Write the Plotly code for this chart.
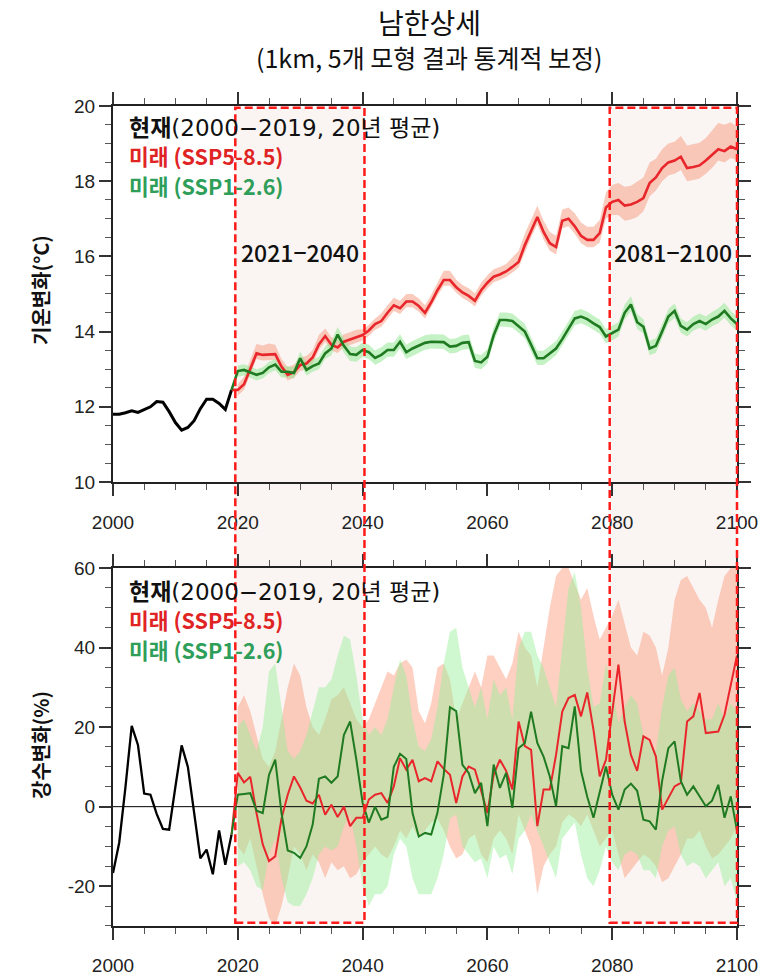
import plotly.graph_objects as go

# ---------------- data ----------------
years_obs = list(range(2000, 2020))
years_fut = list(range(2020, 2101))

# temperature (°C)
temp_obs = [11.80, 11.80, 11.84, 11.89, 11.85, 11.93, 12.00, 12.14, 12.12, 11.87,
            11.58, 11.38, 11.45, 11.63, 11.95, 12.20, 12.20, 12.09, 11.93, 12.45]

temp_ssp585 = [12.45, 12.60, 13.00, 13.42, 13.38, 13.38, 13.40, 13.07, 12.85, 12.92,
               13.11, 13.15, 13.31, 13.66, 13.88, 13.65, 13.58, 13.73, 13.78, 13.85,
               13.91, 14.03, 14.20, 14.28, 14.50, 14.70, 14.62, 14.80, 14.80, 14.68,
               14.50, 14.78, 15.10, 15.37, 15.37, 15.18, 15.04, 14.95, 14.82, 15.10,
               15.30, 15.46, 15.52, 15.60, 15.72, 15.85, 16.30, 16.70, 17.05, 16.65,
               16.35, 16.25, 16.95, 17.00, 16.80, 16.55, 16.44, 16.44, 16.62, 17.30,
               17.45, 17.50, 17.35, 17.38, 17.45, 17.55, 17.95, 18.10, 18.35, 18.50,
               18.55, 18.65, 18.35, 18.38, 18.42, 18.55, 18.70, 18.85, 18.80, 18.92,
               18.85]
temp_ssp585_up = [0.15, 0.20, 0.25, 0.25, 0.25, 0.30, 0.25, 0.20, 0.20, 0.20,
                  0.20, 0.20, 0.20, 0.25, 0.20, 0.20, 0.20, 0.20, 0.20, 0.20,
                  0.15, 0.15, 0.15, 0.20, 0.20, 0.20, 0.20, 0.20, 0.20, 0.20,
                  0.20, 0.20, 0.20, 0.25, 0.25, 0.20, 0.20, 0.20, 0.20, 0.20,
                  0.20, 0.20, 0.20, 0.20, 0.25, 0.30, 0.30, 0.30, 0.30, 0.30,
                  0.30, 0.30, 0.30, 0.30, 0.35, 0.35, 0.35, 0.35, 0.35, 0.40,
                  0.45, 0.45, 0.50, 0.50, 0.55, 0.55, 0.55, 0.50, 0.50, 0.50,
                  0.50, 0.55, 0.60, 0.60, 0.60, 0.60, 0.65, 0.70, 0.70, 0.65,
                  0.60]
temp_ssp585_dn = [0.15, 0.15, 0.15, 0.15, 0.15, 0.15, 0.15, 0.15, 0.15, 0.15,
                  0.15, 0.15, 0.15, 0.15, 0.15, 0.15, 0.15, 0.15, 0.15, 0.15,
                  0.15, 0.15, 0.15, 0.15, 0.15, 0.15, 0.15, 0.15, 0.15, 0.15,
                  0.15, 0.15, 0.15, 0.15, 0.15, 0.15, 0.15, 0.15, 0.15, 0.15,
                  0.15, 0.15, 0.15, 0.15, 0.15, 0.15, 0.20, 0.20, 0.20, 0.20,
                  0.20, 0.20, 0.20, 0.20, 0.20, 0.20, 0.20, 0.20, 0.25, 0.30,
                  0.35, 0.40, 0.40, 0.40, 0.40, 0.35, 0.35, 0.35, 0.35, 0.35,
                  0.35, 0.35, 0.35, 0.35, 0.35, 0.35, 0.35, 0.30, 0.30, 0.30,
                  0.30]

temp_ssp126 = [12.95, 12.98, 12.92, 12.85, 12.90, 13.05, 13.12, 12.93, 12.93, 12.90,
               13.29, 12.98, 13.08, 13.15, 13.42, 13.55, 13.92, 13.62, 13.40, 13.38,
               13.51, 13.45, 13.30, 13.38, 13.51, 13.51, 13.73, 13.45, 13.55, 13.62,
               13.70, 13.73, 13.73, 13.72, 13.60, 13.62, 13.70, 13.72, 13.22, 13.18,
               13.33, 13.90, 14.31, 14.31, 14.28, 14.15, 14.00, 13.65, 13.29, 13.29,
               13.42, 13.55, 13.80, 14.08, 14.35, 14.40, 14.33, 14.22, 14.12, 13.87,
               13.95, 14.05, 14.50, 14.72, 14.25, 14.13, 13.55, 13.62, 14.00, 14.40,
               14.55, 14.15, 14.05, 14.20, 14.28, 14.20, 14.32, 14.40, 14.55, 14.35,
               14.20]
temp_ssp126_up = [0.15, 0.15, 0.15, 0.15, 0.15, 0.15, 0.15, 0.15, 0.15, 0.15,
                  0.18, 0.18, 0.18, 0.18, 0.18, 0.20, 0.20, 0.20, 0.20, 0.20,
                  0.20, 0.20, 0.20, 0.20, 0.20, 0.20, 0.20, 0.20, 0.20, 0.20,
                  0.20, 0.20, 0.20, 0.20, 0.20, 0.20, 0.20, 0.20, 0.20, 0.20,
                  0.20, 0.20, 0.20, 0.20, 0.20, 0.20, 0.20, 0.20, 0.20, 0.20,
                  0.20, 0.20, 0.20, 0.20, 0.20, 0.20, 0.20, 0.20, 0.20, 0.20,
                  0.20, 0.20, 0.22, 0.22, 0.22, 0.20, 0.20, 0.20, 0.20, 0.20,
                  0.20, 0.20, 0.20, 0.20, 0.20, 0.20, 0.20, 0.22, 0.22, 0.20,
                  0.20]
temp_ssp126_dn = [0.15, 0.15, 0.15, 0.15, 0.15, 0.15, 0.15, 0.15, 0.15, 0.15,
                  0.15, 0.15, 0.15, 0.15, 0.15, 0.18, 0.18, 0.18, 0.18, 0.18,
                  0.18, 0.18, 0.18, 0.18, 0.18, 0.18, 0.18, 0.18, 0.18, 0.18,
                  0.18, 0.18, 0.18, 0.18, 0.18, 0.18, 0.18, 0.18, 0.18, 0.18,
                  0.18, 0.18, 0.18, 0.18, 0.18, 0.18, 0.18, 0.18, 0.18, 0.18,
                  0.18, 0.18, 0.18, 0.18, 0.18, 0.18, 0.18, 0.18, 0.18, 0.18,
                  0.18, 0.18, 0.18, 0.18, 0.18, 0.18, 0.18, 0.18, 0.18, 0.18,
                  0.18, 0.18, 0.18, 0.18, 0.18, 0.18, 0.18, 0.18, 0.18, 0.18,
                  0.18]

# precipitation change (%)
prcp_obs = [-16.7, -9.0, 5.0, 20.3, 15.5, 3.3, 3.0, -1.8, -5.6, -5.8,
            5.0, 15.4, 10.0, -1.0, -13.0, -10.8, -17.0, -6.0, -14.6, -7.0]

prcp_ssp585 = [8.5, 6.1, 7.5, -1.6, -9.5, -13.7, -12.5, -3.0, 3.0, 7.6,
               4.8, 1.5, 0.8, 3.0, -2.0, 0.5, -2.6, 0.0, -4.9, -2.8,
               -2.8, 1.8, 3.0, 3.4, 0.9, 5.1, 12.2, 9.3, 11.8, 6.4,
               7.2, 6.4, 11.4, 9.5, 8.0, 0.9, 7.6, 10.1, 9.3, 4.0,
               -1.6, 8.0, 11.8, 9.0, 4.3, 21.4, 15.2, 14.3, -4.9, 4.3,
               4.3, 13.0, 23.9, 27.3, 28.1, 22.7, 28.7, 19.3, 7.6, 11.8,
               23.5, 35.7, 21.4, 13.0, 9.0, 17.7, 16.8, 12.6, -0.75, 2.2,
               5.1, 6.0, 21.4, 22.7, 28.6, 18.5, 18.7, 18.9, 23.1, 30.2,
               38.0]
prcp_ssp585_hi = [25, 28, 24, 18, 12, 10, 14, 22, 30, 36,
                  33, 25, 20, 18, 22, 27, 28, 30, 26, 22,
                  20, 22, 26, 30, 34, 33, 36, 37, 35, 24,
                  21, 26, 35, 36, 32, 22, 26, 30, 34, 30,
                  38, 38, 35, 32, 36, 44, 40, 38, 30, 40,
                  50, 58, 60, 60, 56, 52, 55, 48, 42, 45,
                  48, 52, 46, 40, 38, 44, 43, 40, 33, 40,
                  52, 57, 58, 55, 52, 50, 45, 52, 58, 60,
                  60]
prcp_ssp585_lo = [-10, -12, -8, -15, -22, -28, -30, -25, -18, -10,
                  -12, -16, -12, -14, -18, -14, -16, -15, -18, -17,
                  -14, -12, -10, -12, -13, -10, -6, -8, -5, -8,
                  -6, -4, -3, -6, -10, -13, -12, -8, -7, -12,
                  -14, -8, -6, -8, -12, -2, -6, -10, -22, -15,
                  -12, -10, -4, -2, -3, -5, -2, -6, -10, -8,
                  -6, -12, -18, -16, -14, -12, -13, -15, -19, -18,
                  -15, -12, -8, -8, -6, -10, -13, -12, -10, -8,
                  -5]

prcp_ssp126 = [3.0, 3.2, 3.4, -1.0, -1.6, 8.0, 11.8, -1.6, -11.0, -11.6,
               -12.9, -10.0, -4.5, 7.0, 7.6, 6.0, 7.6, 18.0, 21.4, 11.8,
               1.0, -4.0, 0.0, -3.3, -2.6, 10.0, 13.3, 12.0, -1.6, -7.5,
               -6.6, -7.0, -1.5, 8.0, 25.0, 24.0, 10.5, 8.5, 3.4, 6.0,
               -4.9, 10.6, 4.7, 8.5, -0.3, 14.7, 16.0, 23.9, 16.0, 12.6,
               7.6, 0.1, 15.2, 14.7, 25.2, 9.0, 2.5, -2.8, 3.4, 10.1,
               3.0, -0.75, 4.3, 5.8, 4.0, -3.3, -3.7, -5.8, 6.5, 14.7,
               16.4, 6.4, 3.0, 5.1, 2.6, 0.1, 1.5, 5.5, -2.8, 2.6,
               -6.0]
prcp_ssp126_hi = [20, 22, 18, 14, 20, 34, 36, 25, 14, 12,
                  14, 18, 24, 30, 30, 32, 38, 43, 42, 33,
                  22, 18, 20, 18, 22, 30, 37, 33, 22, 15,
                  14, 17, 25, 36, 44, 45, 35, 30, 25, 30,
                  22, 32, 28, 30, 22, 40, 44, 44, 38, 35,
                  30, 25, 40, 55, 59, 50, 35, 25, 26, 36,
                  30, 21, 25, 28, 26, 18, 16, 14, 25, 33,
                  35, 27, 24, 26, 24, 22, 22, 26, 22, 26,
                  24]
prcp_ssp126_lo = [-15, -14, -16, -20, -21, -12, -8, -18, -24, -25,
                  -25, -22, -18, -12, -10, -11, -10, -5, -2, -10,
                  -20, -25, -22, -22, -20, -12, -8, -10, -18, -22,
                  -22, -22, -18, -12, -3, -2, -10, -12, -14, -13,
                  -18, -10, -13, -12, -17, -8, -6, -2, -6, -10,
                  -14, -18, -8, -6, -4, -12, -18, -20, -16, -10,
                  -14, -16, -12, -11, -12, -16, -16, -18, -10, -6,
                  -5, -12, -15, -14, -15, -18, -16, -14, -20, -18,
                  -24]

x_ticks = [2000, 2020, 2040, 2060, 2080, 2100]
temp_ticks = [10, 12, 14, 16, 18, 20]
prcp_ticks = [-20, 0, 20, 40, 60]
prcp_ticktext = ["-20", "0", "20", "40", "60"]
periods = [("2021−2040", 2019.6, 2040.3), ("2081−2100", 2079.6, 2100.0)]

# ---------------- style ----------------
KR = "Noto Sans CJK KR"
RED = "#e8262b"
GREEN = "#1f7a22"
RED_BAND_T = "rgba(246,160,135,0.55)"
GREEN_BAND_T = "rgba(150,232,150,0.55)"
RED_BAND_B = "rgba(250,150,120,0.45)"
GREEN_BAND_B = "rgba(150,240,150,0.45)"
X0, X1 = 2000, 2100

fig = go.Figure()


def band(x, lo, hi, color, xa, ya):
    fig.add_trace(go.Scatter(x=x + x[::-1], y=hi + lo[::-1], fill="toself",
                             fillcolor=color, line=dict(width=0), mode="lines",
                             hoverinfo="skip", showlegend=False, xaxis=xa, yaxis=ya))


def line(x, y, color, width, xa, ya):
    fig.add_trace(go.Scatter(x=x, y=y, mode="lines", line=dict(color=color, width=width),
                             showlegend=False, xaxis=xa, yaxis=ya))


# top panel
t585_hi = [v + d for v, d in zip(temp_ssp585, temp_ssp585_up)]
t585_lo = [v - d for v, d in zip(temp_ssp585, temp_ssp585_dn)]
t126_hi = [v + d for v, d in zip(temp_ssp126, temp_ssp126_up)]
t126_lo = [v - d for v, d in zip(temp_ssp126, temp_ssp126_dn)]
band(years_fut, t585_lo, t585_hi, RED_BAND_T, "x", "y")
band(years_fut, t126_lo, t126_hi, GREEN_BAND_T, "x", "y")
line(years_obs, temp_obs, "#000000", 3, "x", "y")
line([years_obs[-1]] + years_fut, [temp_obs[-1]] + temp_ssp585, RED, 2.6, "x", "y")
line([years_obs[-1]] + years_fut, [temp_obs[-1]] + temp_ssp126, GREEN, 2.6, "x", "y")

# bottom panel
band(years_fut, prcp_ssp585_lo, prcp_ssp585_hi, RED_BAND_B, "x2", "y2")
band(years_fut, prcp_ssp126_lo, prcp_ssp126_hi, GREEN_BAND_B, "x2", "y2")
line([X0, X1], [0, 0], "#000000", 1, "x2", "y2")
line(years_obs, prcp_obs, "#000000", 2.3, "x2", "y2")
line([years_obs[-1]] + years_fut, [prcp_obs[-1]] + prcp_ssp585, RED, 2.0, "x2", "y2")
line([years_obs[-1]] + years_fut, [prcp_obs[-1]] + prcp_ssp126, GREEN, 2.0, "x2", "y2")

tickfont = dict(family="Liberation Sans, Arial", size=19, color="#222")
common = dict(showline=True, linecolor="#222", linewidth=2, mirror="allticks",
              ticks="outside", ticklen=12, tickwidth=1.5, tickcolor="#333",
              showgrid=False, zeroline=False, tickfont=tickfont, automargin=False)

fig.update_layout(
    width=765, height=976,
    margin=dict(l=113, r=28, t=106, b=50, autoexpand=False),
    paper_bgcolor="white", plot_bgcolor="rgba(0,0,0,0)",
    showlegend=False,
    xaxis=dict(domain=[0, 1], anchor="y", range=[X0, X1], tickvals=x_ticks,
               ticklabelstandoff=10,
               minor=dict(ticks="outside", ticklen=6, tickwidth=1, tickcolor="#555", dtick=5, tick0=2000),
               **common),
    yaxis=dict(domain=[0.5415, 1], anchor="x", range=[10, 20], tickvals=temp_ticks,
               minor=dict(ticks="outside", ticklen=6, tickwidth=1, tickcolor="#555", dtick=0.5, tick0=10),
               **common),
    xaxis2=dict(domain=[0, 1], anchor="y2", range=[X0, X1], tickvals=x_ticks,
                ticklabelstandoff=9,
                minor=dict(ticks="outside", ticklen=6, tickwidth=1, tickcolor="#555", dtick=5, tick0=2000),
                **common),
    yaxis2=dict(domain=[0, 0.4366], anchor="x2", range=[-30, 60], tickvals=prcp_ticks,
                ticktext=prcp_ticktext,
                minor=dict(ticks="outside", ticklen=6, tickwidth=1, tickcolor="#555", dtick=5, tick0=0),
                **common),
)


def xp(year):
    return (year - X0) / (X1 - X0)


shapes = []
for _, a, b in periods:
    shapes.append(dict(type="rect", xref="paper", yref="paper", x0=xp(a), x1=xp(b),
                       y0=0.004, y1=0.998, fillcolor="rgba(244,232,228,0.45)",
                       line=dict(width=0), layer="below"))
    shapes.append(dict(type="rect", xref="paper", yref="paper", x0=xp(a), x1=xp(b),
                       y0=0.004, y1=0.998, fillcolor="rgba(0,0,0,0)",
                       line=dict(color="#ff1a1a", width=2.5, dash="8px,4px"), layer="above"))
fig.update_layout(shapes=shapes)

ann = []
# titles
ann.append(dict(text="남한상세", xref="paper", yref="paper", x=0.508, y=1.1024,
                xanchor="center", yanchor="middle",
                showarrow=False, font=dict(family=KR, size=28, color="#111")))
ann.append(dict(text="(1km, 5개 모형 결과 통계적 보정)", xref="paper", yref="paper",
                x=0.508, y=1.0598, xanchor="center", yanchor="middle",
                showarrow=False, font=dict(family=KR, size=25, color="#111")))
# axis titles
ann.append(dict(text="<b>기온변화(°C)</b>", xref="paper", yref="paper", x=-0.117, y=0.7756,
                xanchor="center", yanchor="middle",
                textangle=-90, showarrow=False, font=dict(family=KR, size=20, color="#111")))
ann.append(dict(text="<b>강수변화(%)</b>", xref="paper", yref="paper", x=-0.117, y=0.2207,
                xanchor="center", yanchor="middle",
                textangle=-90, showarrow=False, font=dict(family=KR, size=20, color="#111")))
# legend blocks (one text block per panel)
legend_text = ("<span style='font-family:DejaVu Sans, Noto Sans CJK KR;font-size:23px'>"
               "<b>현재</b>(2000−2019, 20년 평균)</span><br>"
               "<span style='color:#e02424;font-size:21.5px'><b>미래 (SSP5-8.5)</b></span><br>"
               "<span style='color:#2e9e58;font-size:21.5px'><b>미래 (SSP1-2.6)</b></span>")
for xa, ya, ytop in (("x", "y", 19.41), ("x2", "y2", 54.0)):
    ann.append(dict(text=legend_text, xref=xa, yref=ya, x=2002.2, y=ytop,
                    xanchor="left", yanchor="top", yshift=15, align="left", showarrow=False,
                    font=dict(family=KR, size=22.5, color="#111")))
# period labels
for label, a, b in periods:
    ann.append(dict(text=label, xref="x", yref="y", x=(a + b) / 2, y=16.12, showarrow=False,
                    xanchor="center", yanchor="middle",
                    font=dict(family=KR, size=23, color="#111", weight=500)))
fig.update_layout(annotations=ann)

fig.write_html("out.html", config={"displayModeBar": False},
               post_script="document.body.style.margin='0';document.body.style.overflow='hidden';")
